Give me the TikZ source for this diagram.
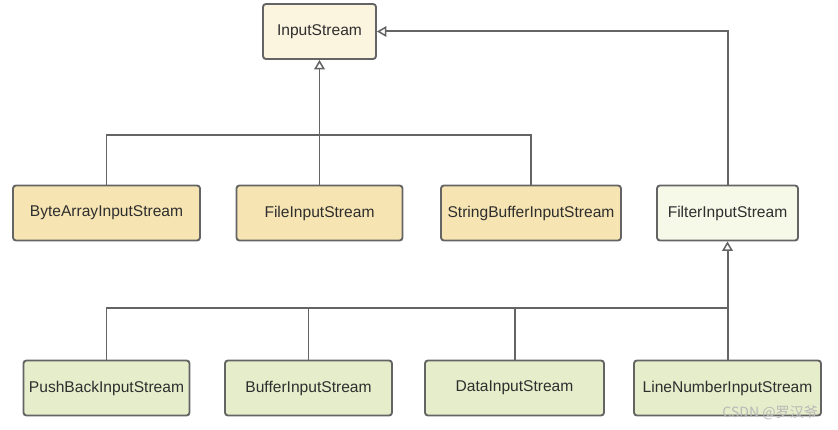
\documentclass[tikz,border=0pt]{standalone}
\usepackage{fontspec}
\setmainfont{Liberation Sans}
\newfontfamily\cjkfont{Noto Sans CJK SC}
\usetikzlibrary{arrows.meta}
\definecolor{linegray}{HTML}{646464}
\definecolor{textgray}{HTML}{2E2E2E}
\definecolor{rootfill}{HTML}{FBF4DF}
\definecolor{basefill}{HTML}{F6E5B2}
\definecolor{filterfill}{HTML}{F6F8E8}
\definecolor{subfill}{HTML}{E6EDCA}

\begin{document}
\begin{tikzpicture}[x=0.03cm,y=-0.03cm,
  cls/.style={draw=linegray,line width=1.6pt,rounded corners=2.5pt,
    minimum height=55*0.03cm,text=textgray,font=\fontsize{13.3}{15}\selectfont,inner sep=0pt},
  inherit/.style={draw=linegray,line width=1.7pt,
    -{Triangle[open,width=9pt,length=8pt,line width=1.3pt]}},
  link/.style={draw=linegray,line width=1.7pt}]
\useasboundingbox[fill=white] (0,0) rectangle (838,430);
\node[cls,fill=rootfill,minimum width=113*0.03cm] (input) at (319.5,31.5) {InputStream};
\node[cls,fill=basefill,minimum width=187*0.03cm] (bytearray) at (106.5,213) {ByteArrayInputStream};
\node[cls,fill=basefill,minimum width=166*0.03cm] (file) at (319.5,213) {FileInputStream};
\node[cls,fill=basefill,minimum width=180*0.03cm] (strbuf) at (531,213) {StringBufferInputStream};
\node[cls,fill=filterfill,minimum width=141*0.03cm] (filter) at (727.5,213) {FilterInputStream};
\node[cls,fill=subfill,minimum width=166*0.03cm] (pushback) at (106.5,388) {PushBackInputStream};
\node[cls,fill=subfill,minimum width=167*0.03cm] (buffer) at (308.5,388) {BufferInputStream};
\node[cls,fill=subfill,minimum width=179*0.03cm] (data) at (514.5,388) {DataInputStream};
\node[cls,fill=subfill,minimum width=187*0.03cm] (linenum) at (727.5,388) {LineNumberInputStream};
\coordinate (join1) at (319.5,135);
\coordinate (join2) at (727.5,308);
\draw[link] (bytearray.north) |- (strbuf.north |- join1) -- (strbuf.north);
\draw[link] (file.north) -- (join1);
\draw[inherit] (join1) -- (input.south);
\draw[inherit] (filter.north) |- (input.east);
\draw[link] (pushback.north) |- (join2) -- (linenum.north);
\draw[link] (buffer.north) -- (buffer.north |- join2);
\draw[link] (data.north) -- (data.north |- join2);
\draw[inherit] (join2) -- (filter.south);
\node[text=black!28,font=\cjkfont\fontsize{12}{14}\selectfont,anchor=east] (mark) at (822,413) {CSDN @罗汉爷};
\end{tikzpicture}
\end{document}
